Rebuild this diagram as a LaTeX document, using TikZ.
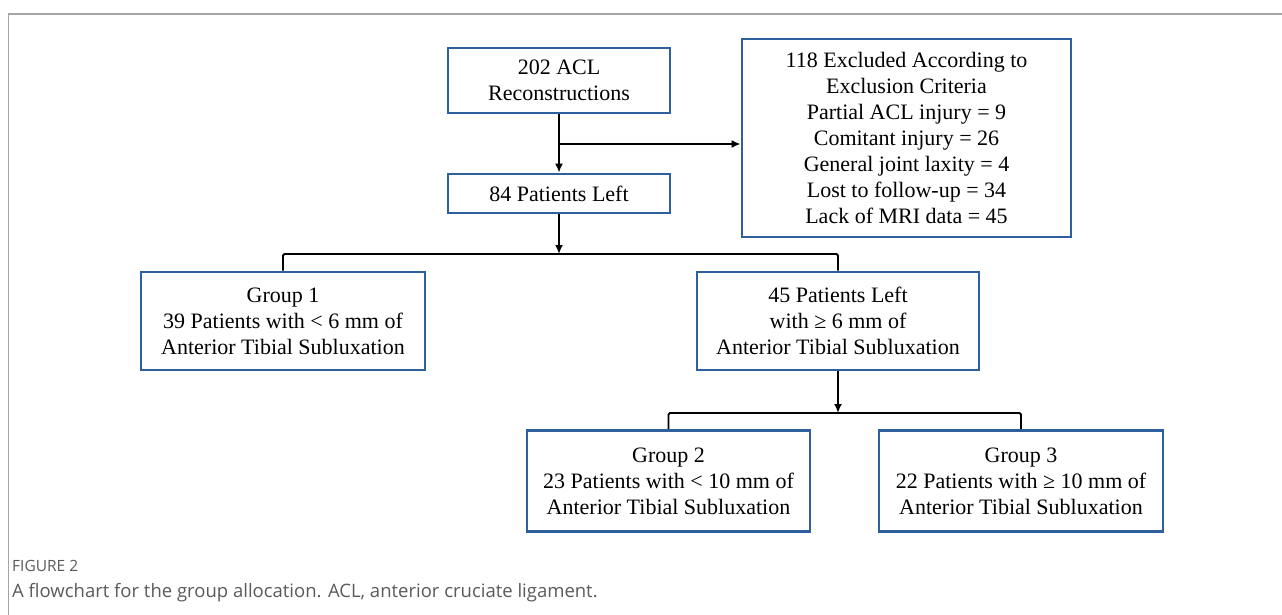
\documentclass[tikz,border=0pt]{standalone}
\usepackage{fontspec}
\setmainfont{Liberation Serif}
\newfontfamily\capfont{Open Sans}
\usepackage{tikz}
\usetikzlibrary{arrows.meta}
\definecolor{boxblue}{RGB}{46,96,158}
\definecolor{capgray}{RGB}{90,90,90}

\begin{document}
\begin{tikzpicture}[x=1pt, y=-1pt,
    box/.style={draw=boxblue, line width=2.8pt, fill=white, align=center, inner sep=0pt,
                font=\fontsize{22}{26}\selectfont},
    link/.style={draw=black, line width=1.8pt, rounded corners=1.5pt},
    arr/.style={link, -{Latex[length=9pt,width=8pt]}},
    frame/.style={draw=black!35}]
    \useasboundingbox (0,0) rectangle (1282,615);
    \draw [frame, line width=2.5pt] (8,14) -- (1282,14);
    \draw [frame, line width=1pt] (8,14) -- (8,615);

    \node [box, minimum width=222, minimum height=65] (recon) at (559,80.5) {202 ACL\\Reconstructions};
    \node [box, minimum width=222, minimum height=39] (left) at (559,193.5) {84 Patients Left};
    \node [box, minimum width=329, minimum height=198] (excl) at (906.5,138)
        {118 Excluded According to\\Exclusion Criteria\\Partial ACL injury = 9\\Comitant injury = 26\\General joint laxity = 4\\Lost to follow-up = 34\\Lack of MRI data = 45};
    \node [box, minimum width=284, minimum height=98] (grp1) at (283,321) {Group 1\\39 Patients with < 6 mm of\\Anterior Tibial Subluxation};
    \node [box, minimum width=282, minimum height=98] (rest) at (838,321) {45 Patients Left\\with ≥ 6 mm of\\Anterior Tibial Subluxation};
    \node [box, minimum width=283, minimum height=101] (grp2) at (668.5,481) {Group 2\\23 Patients with < 10 mm of\\Anterior Tibial Subluxation};
    \node [box, minimum width=284, minimum height=101] (grp3) at (1021,481) {Group 3\\22 Patients with ≥ 10 mm of\\Anterior Tibial Subluxation};

    \coordinate (split) at (559,144);
    \coordinate (fork1) at (559,254);
    \coordinate (fork2) at (838,413);
    \draw [arr] (recon) -- (left);
    \draw [arr] (split) -- (split -| excl.west);
    \draw [arr] (left) -- (fork1);
    \draw [link] (grp1.north) |- (fork1) -| (rest.north);
    \draw [arr] (rest) -- (fork2);
    \draw [link] (grp2.north) |- (fork2) -| (grp3.north);

    \node [anchor=base west, inner sep=0pt, text=capgray, font=\capfont\fontsize{15.5}{17}\selectfont] (figlbl) at (12,571) {FIGURE 2};
    \node [anchor=base west, inner sep=0pt, text=capgray, font=\capfont\fontsize{18.5}{20}\selectfont] (figcap) at (12,597) {A flowchart for the group allocation. ACL, anterior cruciate ligament.};
\end{tikzpicture}
\end{document}
